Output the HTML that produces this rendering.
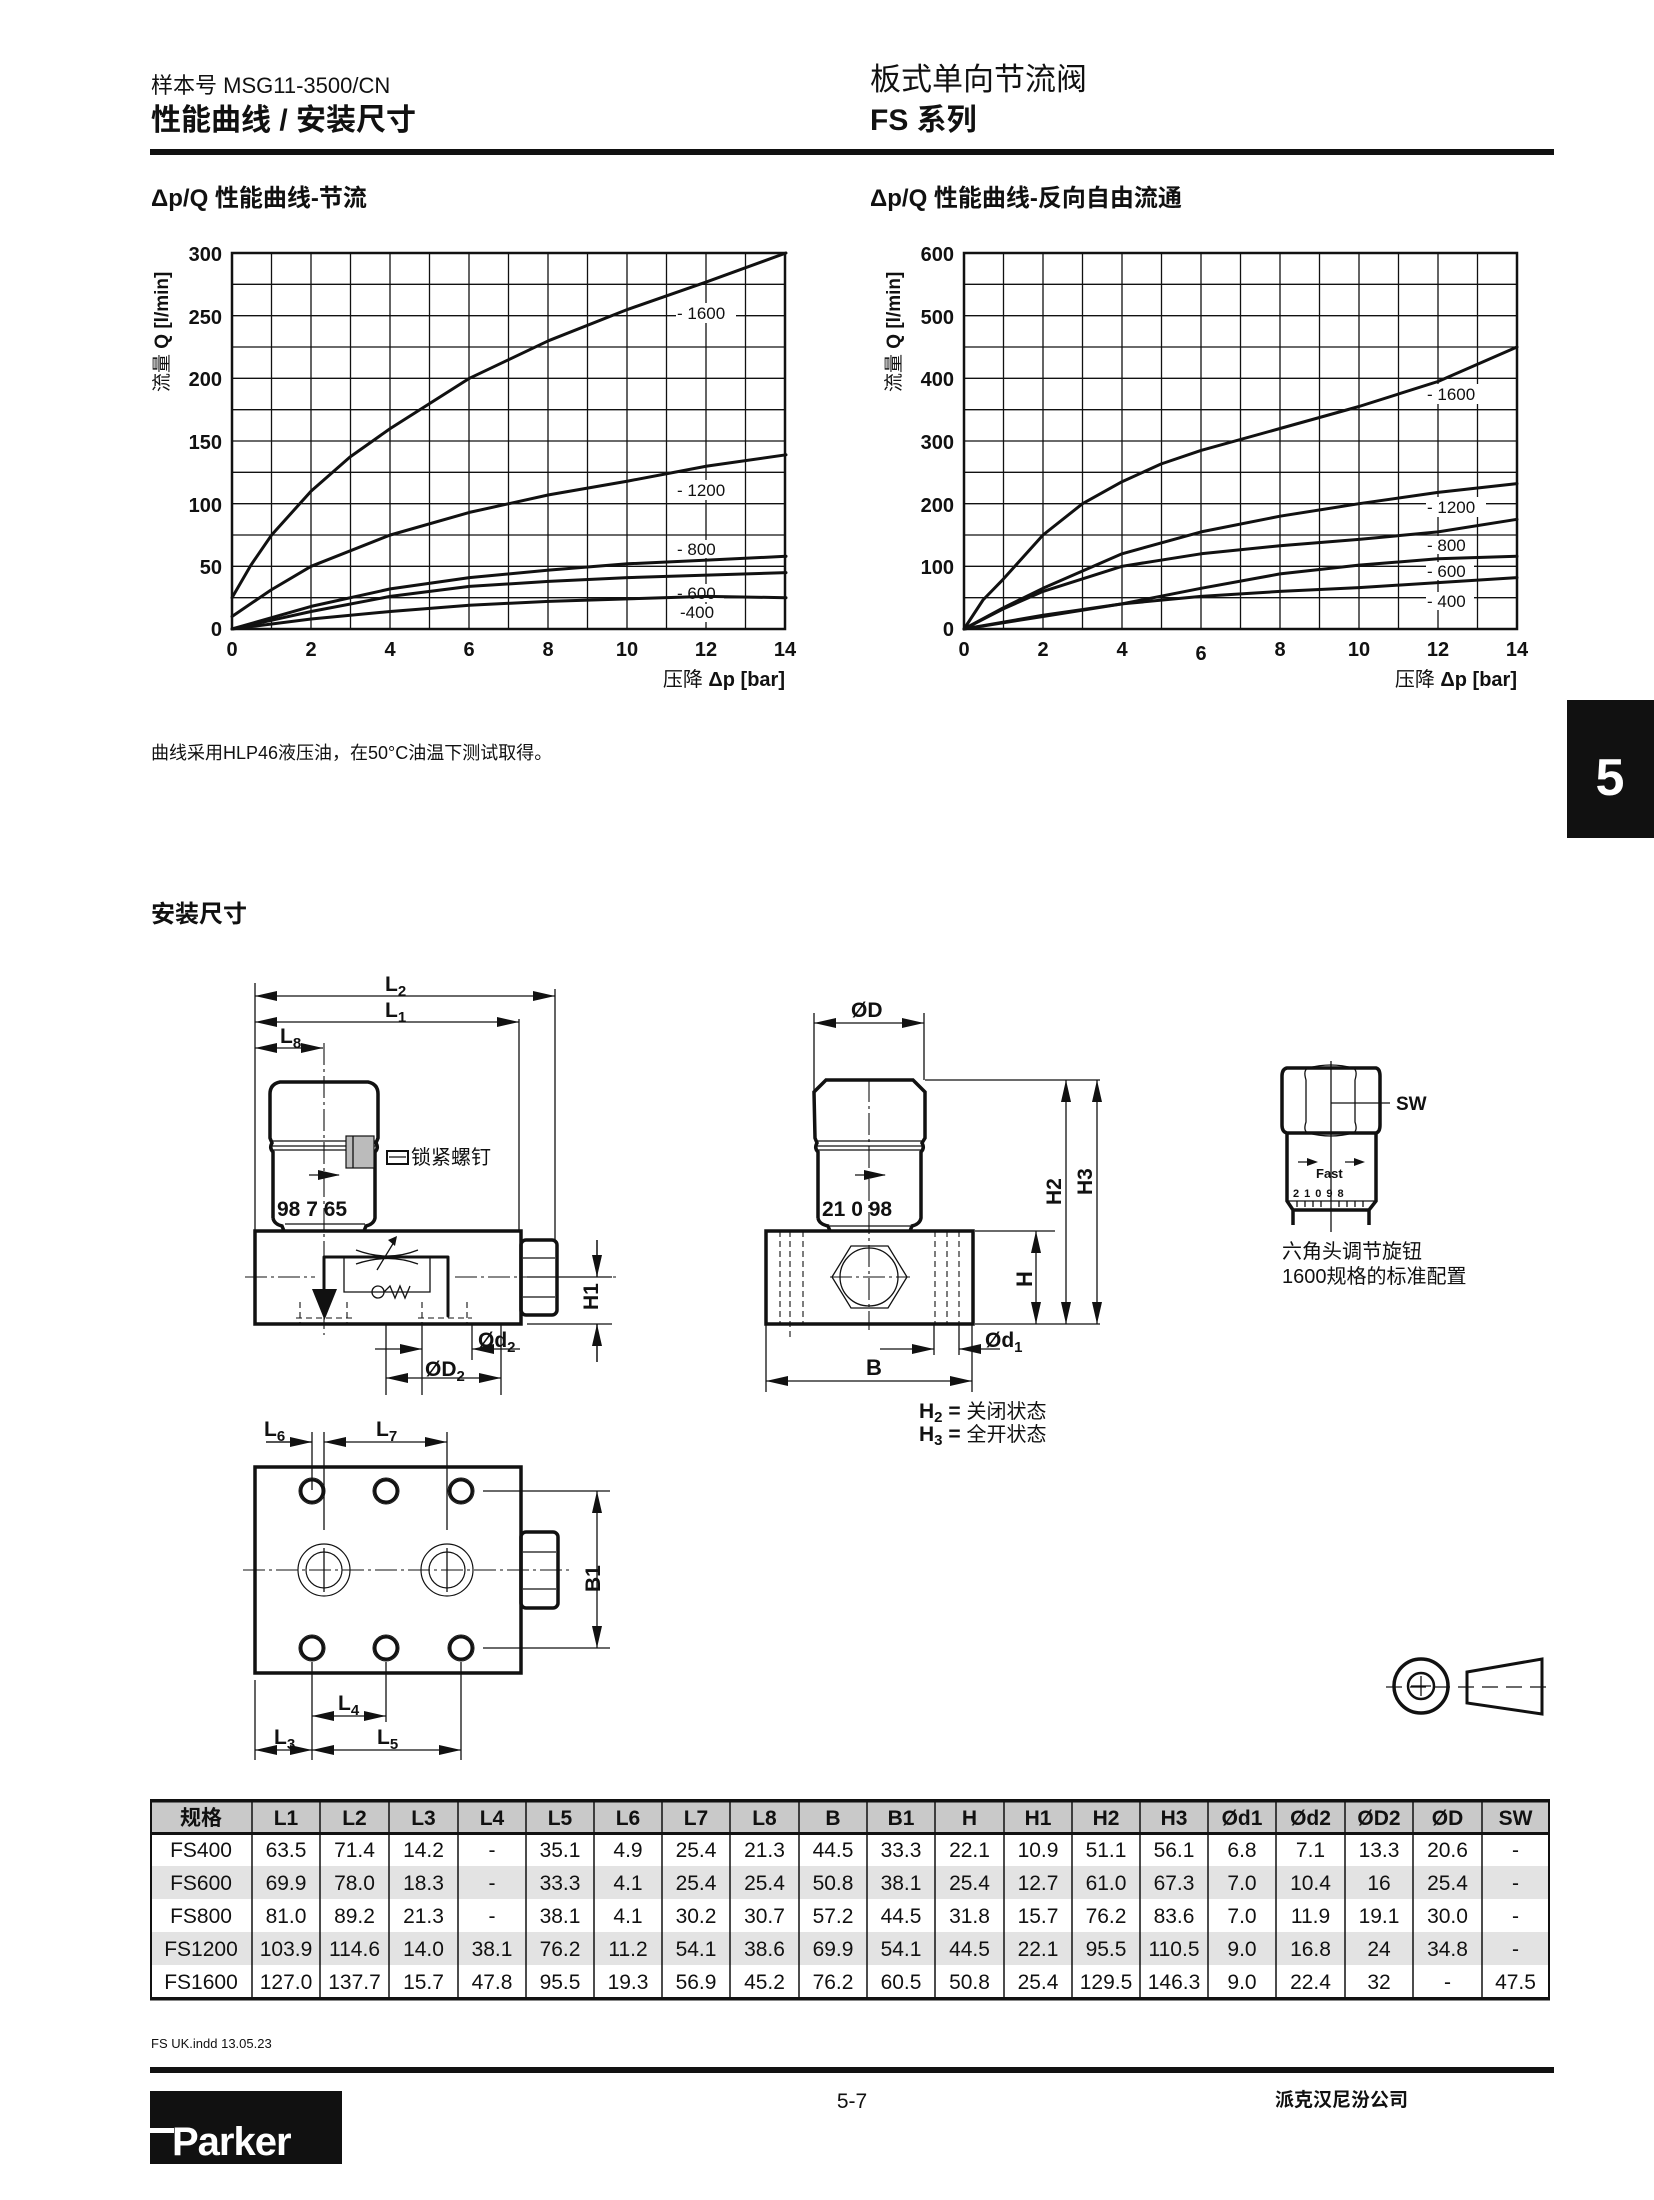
<!DOCTYPE html>
<html><head><meta charset="utf-8"><style>
html,body{margin:0;padding:0;background:#fff}
svg{display:block}
text{font-family:"Liberation Sans","Noto Sans CJK SC",sans-serif;fill:#111}
.cj{font-family:"Liberation Sans","Noto Sans CJK SC",sans-serif}
.n{font-family:"Liberation Sans Narrow","Liberation Sans","Noto Sans CJK SC",sans-serif}
.b{font-weight:bold}
.th{stroke:#111;stroke-width:1.3;fill:none}
.tk{stroke:#111;stroke-width:3.5;fill:none}
.cl{stroke:#111;stroke-width:1.1;fill:none;stroke-dasharray:22 4 3 4}
.ds{stroke:#111;stroke-width:1.1;fill:none;stroke-dasharray:6 4}
.cv{stroke:#111;stroke-width:3;fill:none;stroke-linejoin:round;stroke-linecap:round}
</style></head><body>
<svg width="1654" height="2200" viewBox="0 0 1654 2200" xmlns="http://www.w3.org/2000/svg">
<defs>
<marker id="a" markerUnits="userSpaceOnUse" markerWidth="22" markerHeight="10" viewBox="0 0 22 10" refX="22" refY="5" orient="auto-start-reverse"><path d="M0,0 L22,5 L0,10 z" fill="#111"/></marker>
<g id="grid" stroke="#111" stroke-width="1.3" fill="none">
<path d="M39.5,0V376M79,0V376M118.5,0V376M158,0V376M197.5,0V376M237,0V376M276.5,0V376M316,0V376M355.5,0V376M395,0V376M434.5,0V376M474,0V376M513.5,0V376M0,31.33H553M0,62.67H553M0,94H553M0,125.33H553M0,156.67H553M0,188H553M0,219.33H553M0,250.67H553M0,282H553M0,313.33H553M0,344.67H553"/>
<rect x="0" y="0" width="553" height="376" stroke-width="2.5"/>
</g>
</defs>

<!-- header -->
<text x="151" y="93" font-size="22" class="cj">样本号 MSG11-3500/CN</text>
<text x="151" y="130" font-size="30" class="cj b">性能曲线 / 安装尺寸</text>
<text x="870" y="90" font-size="31" class="cj">板式单向节流阀</text>
<text x="870" y="130" font-size="30" class="cj b">FS 系列</text>
<rect x="150" y="149" width="1404" height="6" fill="#111"/>

<text x="151" y="206" font-size="24" class="cj b">Δp/Q 性能曲线-节流</text>
<text x="870" y="206" font-size="24" class="cj b">Δp/Q 性能曲线-反向自由流通</text>

<!-- left chart -->
<use href="#grid" x="232" y="253"/>
<g font-size="20" class="b" text-anchor="end">
<text x="222" y="261">300</text><text x="222" y="324">250</text><text x="222" y="386">200</text><text x="222" y="449">150</text><text x="222" y="512">100</text><text x="222" y="574">50</text><text x="222" y="636">0</text>
</g>
<g font-size="20" class="b" text-anchor="middle">
<text x="232" y="656">0</text><text x="311" y="656">2</text><text x="390" y="656">4</text><text x="469" y="656">6</text><text x="548" y="656">8</text><text x="627" y="656">10</text><text x="706" y="656">12</text><text x="785" y="656">14</text>
</g>
<text transform="translate(168,392) rotate(-90)" font-size="19"><tspan class="cj">流量 </tspan><tspan class="b">Q [l/min]</tspan></text>
<text x="785" y="686" font-size="20" text-anchor="end"><tspan class="cj">压降 </tspan><tspan class="b">Δp [bar]</tspan></text>
<g fill="#fff"><rect x="676" y="303" width="60" height="20"/><rect x="676" y="480" width="60" height="20"/><rect x="676" y="540" width="48" height="18"/><rect x="676" y="584" width="48" height="18"/><rect x="676" y="604" width="48" height="18"/></g>
<polyline class="cv" points="232,597.7 251,565 271.6,535 311.1,491.1 350,457 390.3,428.5 469.4,378.3 548.6,340.7 627.7,309.4 706.8,281.8 786,253"/>
<polyline class="cv" points="232,616.5 271,590 311.1,566.3 390.3,535 469.4,512.4 548.6,494.9 627.7,481.1 706.8,466.1 786,454.8"/>
<polyline class="cv" points="232,629 311.1,606.4 390.3,588.9 469.4,577.6 548.6,570.1 627.7,563.8 706.8,560.1 786,556.3"/>
<polyline class="cv" points="232,629 311.1,611.5 390.3,596.4 469.4,586.4 548.6,581.4 627.7,577.6 706.8,575.1 786,572.6"/>
<polyline class="cv" points="232,629 311.1,619 390.3,611.5 469.4,605.2 548.6,601.4 627.7,598.9 706.8,596.4 786,597.7"/>
<g font-size="17" class="n">
<text x="677" y="319">- 1600</text><text x="677" y="496">- 1200</text><text x="677" y="555">- 800</text><text x="677" y="599">- 600</text><text x="680" y="618">-400</text>
</g>

<!-- right chart -->
<use href="#grid" x="964" y="253"/>
<g font-size="20" class="b" text-anchor="end">
<text x="954" y="261">600</text><text x="954" y="324">500</text><text x="954" y="386">400</text><text x="954" y="449">300</text><text x="954" y="512">200</text><text x="954" y="574">100</text><text x="954" y="636">0</text>
</g>
<g font-size="20" class="b" text-anchor="middle">
<text x="964" y="656">0</text><text x="1043" y="656">2</text><text x="1122" y="656">4</text><text x="1201" y="660">6</text><text x="1280" y="656">8</text><text x="1359" y="656">10</text><text x="1438" y="656">12</text><text x="1517" y="656">14</text>
</g>
<text transform="translate(900,392) rotate(-90)" font-size="19"><tspan class="cj">流量 </tspan><tspan class="b">Q [l/min]</tspan></text>
<text x="1517" y="686" font-size="20" text-anchor="end"><tspan class="cj">压降 </tspan><tspan class="b">Δp [bar]</tspan></text>
<g fill="#fff"><rect x="1426" y="384" width="60" height="20"/><rect x="1426" y="497" width="60" height="20"/><rect x="1426" y="536" width="48" height="18"/><rect x="1426" y="562" width="48" height="18"/><rect x="1426" y="592" width="48" height="18"/></g>
<polyline class="cv" points="964,629 983,600 1003.5,578.9 1043,535 1082.5,503.7 1122,481.7 1161,464 1201,450.4 1280,428.5 1359,406.5 1438,381.5 1517,347"/>
<polyline class="cv" points="964,629 1003,608 1043,588.3 1122,553.8 1201,531.9 1280,516.2 1359,503.7 1438,492.4 1517,483.6"/>
<polyline class="cv" points="964,629 1003,609 1043,591.4 1122,566.3 1201,553.8 1280,545.7 1359,539.4 1438,531.9 1517,519.3"/>
<polyline class="cv" points="964,629 1043,616.5 1122,603.9 1201,588.3 1280,573.9 1359,565.1 1438,558.8 1517,556.3"/>
<polyline class="cv" points="964,629 1043,615.2 1122,603.9 1201,596.4 1280,591.4 1359,587.6 1438,582.6 1517,577.6"/>
<g font-size="17" class="n">
<text x="1427" y="400">- 1600</text><text x="1427" y="513">- 1200</text><text x="1427" y="551">- 800</text><text x="1427" y="577">- 600</text><text x="1427" y="607">- 400</text>
</g>

<text x="151" y="759" font-size="18" class="cj">曲线采用HLP46液压油，在50°C油温下测试取得。</text>
<rect x="1567" y="700" width="87" height="138" fill="#111"/>
<text x="1610" y="795" font-size="52" class="b" text-anchor="middle" style="fill:#fff">5</text>

<text x="151" y="922" font-size="24" class="cj b">安装尺寸</text>

<!-- left front view -->
<g>
<line class="th" x1="255" y1="983" x2="255" y2="1231"/>
<line class="th" x1="519" y1="1019" x2="519" y2="1231"/>
<line class="th" x1="555" y1="989" x2="555" y2="1240"/>
<line class="th" x1="255" y1="996" x2="555" y2="996" marker-start="url(#a)" marker-end="url(#a)"/>
<line class="th" x1="255" y1="1022" x2="519" y2="1022" marker-start="url(#a)" marker-end="url(#a)"/>
<line class="th" x1="255" y1="1048" x2="323" y2="1048" marker-start="url(#a)" marker-end="url(#a)"/>
<text x="385" y="991" font-size="21" class="b">L<tspan font-size="15" dy="5">2</tspan></text>
<text x="385" y="1017" font-size="21" class="b">L<tspan font-size="15" dy="5">1</tspan></text>
<text x="280" y="1043" font-size="21" class="b">L<tspan font-size="15" dy="5">8</tspan></text>
<line class="cl" x1="324" y1="1043" x2="324" y2="1335"/>
<!-- knob -->
<path class="tk" d="M273,1218 L273,1152 Q269,1148 272,1143 L270,1138 L270,1094 Q270,1084 280,1082 L368,1082 Q378,1084 378,1094 L378,1138 L376,1143 Q379,1148 375,1152 L375,1218 Q374,1224 366,1226 L364,1231 M273,1218 Q274,1224 282,1226 L284,1231"/>
<path class="th" d="M272,1141 H376 M272,1146 H377 M273,1150 H375 M285,1224 H365"/>
<rect x="346" y="1136" width="28" height="32" fill="#bbb" stroke="#111" stroke-width="1.2"/>
<line class="th" x1="353" y1="1136" x2="353" y2="1168"/>
<rect x="387" y="1151" width="21" height="13" fill="none" stroke="#111" stroke-width="2"/>
<line class="th" x1="389" y1="1157" x2="406" y2="1157"/>
<text x="411" y="1164" font-size="20" class="cj">锁紧螺钉</text>
<line class="th" x1="309" y1="1175" x2="339" y2="1175"/>
<path d="M318,1170 L340,1175 L318,1180 z" fill="#111"/>
<text x="277" y="1216" font-size="21" class="b">98 7 65</text>
<!-- body -->
<rect class="tk" x="255" y="1231" width="266" height="93"/>
<rect class="tk" x="521" y="1240" width="36" height="75" rx="5"/>
<path class="th" d="M523,1258 H555 M523,1297 H555"/>
<line class="cl" x1="245" y1="1277" x2="315" y2="1277"/>
<line class="cl" x1="455" y1="1277" x2="620" y2="1277"/>
<path class="cv" d="M324,1300 L324,1257 L448,1257 L448,1316" stroke-width="3"/>
<path class="th" d="M344,1257 V1292 H430 V1257 M356,1250 Q388,1262 418,1250 M356,1264 Q388,1253 418,1264 M377,1270 L394,1242"/>
<path d="M388,1240 L397,1236 L395,1246 z" fill="#111"/>
<circle class="th" cx="378" cy="1292" r="6"/>
<path class="th" d="M384,1292 L390,1286 L395,1298 L400,1286 L405,1298 L410,1286"/>
<path d="M312,1289 L337,1289 L324.5,1320 z" fill="#111"/>
<path class="ds" d="M300,1302 V1324 M347,1302 V1324 M296,1318 H352 M422,1302 V1324 M467,1302 V1324 M418,1318 H472"/>
<!-- Ød2 ØD2 -->
<path class="th" d="M422,1324 V1395 M472,1324 V1360 M386,1324 V1395 M501,1324 V1395"/>
<line class="th" x1="375" y1="1349" x2="422" y2="1349" marker-end="url(#a)"/>
<line class="th" x1="520" y1="1349" x2="472" y2="1349" marker-end="url(#a)"/>
<text x="478" y="1347" font-size="21" class="b">Ød<tspan font-size="15" dy="5">2</tspan></text>
<line class="th" x1="386" y1="1378" x2="501" y2="1378" marker-start="url(#a)" marker-end="url(#a)"/>
<text x="425" y="1376" font-size="21" class="b">ØD<tspan font-size="15" dy="5">2</tspan></text>
<!-- H1 -->
<path class="th" d="M527,1277 H612 M527,1324 H612 M597,1240 V1277 M597,1324 V1362"/>
<line class="th" x1="597" y1="1240" x2="597" y2="1277" marker-end="url(#a)"/>
<line class="th" x1="597" y1="1362" x2="597" y2="1324" marker-end="url(#a)"/>
<text transform="translate(598,1310) rotate(-90)" font-size="21" class="b">H1</text>
</g>

<!-- side view -->
<g>
<path class="th" d="M814,1013 V1090 M924,1013 V1080"/>
<line class="th" x1="814" y1="1023" x2="924" y2="1023" marker-start="url(#a)" marker-end="url(#a)"/>
<text x="851" y="1017" font-size="21" class="b">ØD</text>
<line class="cl" x1="869" y1="1080" x2="869" y2="1330"/>
<path class="tk" d="M818,1218 L818,1152 Q814,1148 817,1143 L815,1138 L814,1092 L826,1080 L913,1080 L925,1092 L925,1138 L922,1143 Q925,1148 921,1152 L921,1218 Q920,1224 912,1226 L910,1231 M818,1218 Q819,1224 828,1226 L830,1231"/>
<path class="th" d="M816,1141 H923 M816,1146 H923 M818,1150 H921 M830,1226 H910"/>
<line class="th" x1="855" y1="1175" x2="885" y2="1175"/>
<path d="M864,1170 L886,1175 L864,1180 z" fill="#111"/>
<text x="822" y="1216" font-size="21" class="b">21 0 98</text>
<rect class="tk" x="766" y="1231" width="207" height="93"/>
<path class="ds" d="M780,1231 V1324 M790,1231 V1340 M803,1231 V1324 M935,1231 V1324 M947,1231 V1324 M959,1231 V1324"/>
<polygon class="th" stroke-width="2" points="832,1277 851,1246 888,1246 907,1277 888,1308 851,1308"/>
<circle class="th" cx="869" cy="1277" r="29"/>
<line class="cl" x1="830" y1="1277" x2="910" y2="1277"/>
<!-- H, H2, H3 -->
<path class="th" d="M925,1080 H1100 M975,1231 H1055 M975,1324 H1100"/>
<line class="th" x1="1036" y1="1231" x2="1036" y2="1324" marker-start="url(#a)" marker-end="url(#a)"/>
<line class="th" x1="1066" y1="1080" x2="1066" y2="1324" marker-start="url(#a)" marker-end="url(#a)"/>
<line class="th" x1="1097" y1="1080" x2="1097" y2="1324" marker-start="url(#a)" marker-end="url(#a)"/>
<text transform="translate(1032,1287) rotate(-90)" font-size="22" class="b">H</text>
<text transform="translate(1061,1205) rotate(-90)" font-size="21" class="b">H2</text>
<text transform="translate(1092,1195) rotate(-90)" font-size="21" class="b">H3</text>
<!-- Ød1 B -->
<path class="th" d="M766,1324 V1392 M934,1324 V1355 M959,1324 V1355 M972,1324 V1392"/>
<line class="th" x1="880" y1="1349" x2="934" y2="1349" marker-end="url(#a)"/>
<line class="th" x1="1000" y1="1349" x2="959" y2="1349" marker-end="url(#a)"/>
<text x="985" y="1347" font-size="21" class="b">Ød<tspan font-size="15" dy="5">1</tspan></text>
<line class="th" x1="766" y1="1381" x2="972" y2="1381" marker-start="url(#a)" marker-end="url(#a)"/>
<text x="866" y="1375" font-size="22" class="b">B</text>
<text x="919" y="1418" font-size="21"><tspan class="b">H<tspan font-size="15" dy="4">2</tspan><tspan dy="-4"> = </tspan></tspan><tspan class="cj" font-size="20">关闭状态</tspan></text>
<text x="919" y="1441" font-size="21"><tspan class="b">H<tspan font-size="15" dy="4">3</tspan><tspan dy="-4"> = </tspan></tspan><tspan class="cj" font-size="20">全开状态</tspan></text>
</g>

<!-- hex knob detail -->
<g>
<line class="th" x1="1331" y1="1061" x2="1331" y2="1232"/>
<path class="tk" stroke-width="2.5" d="M1287,1068 Q1282,1069 1282,1076 L1282,1125 Q1282,1132 1287,1133 L1376,1133 Q1380,1132 1380,1125 L1380,1076 Q1380,1069 1376,1068 Z"/>
<path class="th" stroke-width="2" d="M1308,1068 Q1303,1070 1306,1080 L1306,1122 Q1303,1131 1308,1133 M1353,1068 Q1358,1070 1355,1080 L1355,1122 Q1358,1131 1353,1133 M1308,1068 Q1331,1062 1353,1068 M1308,1133 Q1331,1139 1353,1133"/>
<line class="th" x1="1331" y1="1103" x2="1390" y2="1103"/>
<text x="1396" y="1110" font-size="19" class="b">SW</text>
<path class="tk" stroke-width="2.5" d="M1287,1133 V1201 L1293,1210 H1369 L1376,1201 V1133 M1293,1210 V1225 M1369,1210 V1225"/>
<path class="th" d="M1287,1201 H1376 M1297,1201 V1207 M1305,1201 V1207 M1313,1201 V1207 M1321,1201 V1207 M1339,1201 V1207 M1347,1201 V1207 M1355,1201 V1207 M1363,1201 V1207 M1298,1162 H1315 M1345,1162 H1362"/>
<path d="M1307,1158 L1318,1162 L1307,1166 z M1354,1158 L1365,1162 L1354,1166 z" fill="#111"/>
<text x="1316" y="1178" font-size="13" class="b">Fast</text>
<text x="1293" y="1197" font-size="11" class="b" letter-spacing="5">21098</text>
<text x="1282" y="1258" font-size="20" class="cj">六角头调节旋钮</text>
<text x="1282" y="1283" font-size="20" class="cj">1600规格的标准配置</text>
</g>

<!-- bottom view -->
<g>
<path class="th" d="M266,1442 H312 M312,1432 V1490 M324,1432 V1530 M447,1432 V1530"/>
<line class="th" x1="266" y1="1442" x2="312" y2="1442" marker-end="url(#a)"/>
<line class="th" x1="324" y1="1442" x2="447" y2="1442" marker-start="url(#a)" marker-end="url(#a)"/>
<text x="264" y="1436" font-size="21" class="b">L<tspan font-size="15" dy="5">6</tspan></text>
<text x="376" y="1436" font-size="21" class="b">L<tspan font-size="15" dy="5">7</tspan></text>
<rect class="tk" x="255" y="1467" width="266" height="206"/>
<rect class="tk" x="521" y="1532" width="37" height="76" rx="5"/>
<path class="th" d="M523,1552 H556 M523,1589 H556"/>
<line class="cl" x1="243" y1="1570" x2="570" y2="1570"/>
<g stroke="#111" fill="none">
<circle cx="312" cy="1491" r="11" stroke-width="3"/><circle cx="312" cy="1491" r="13" stroke-width="1"/>
<circle cx="386" cy="1491" r="11" stroke-width="3"/><circle cx="386" cy="1491" r="13" stroke-width="1"/>
<circle cx="461" cy="1491" r="11" stroke-width="3"/><circle cx="461" cy="1491" r="13" stroke-width="1"/>
<circle cx="312" cy="1648" r="11" stroke-width="3"/><circle cx="312" cy="1648" r="13" stroke-width="1"/>
<circle cx="386" cy="1648" r="11" stroke-width="3"/><circle cx="386" cy="1648" r="13" stroke-width="1"/>
<circle cx="461" cy="1648" r="11" stroke-width="3"/><circle cx="461" cy="1648" r="13" stroke-width="1"/>
<circle cx="324" cy="1570" r="26" stroke-width="1.2"/><circle cx="324" cy="1570" r="18" stroke-width="1.2"/>
<circle cx="447" cy="1570" r="26" stroke-width="1.2"/><circle cx="447" cy="1570" r="18" stroke-width="1.2"/>
</g>
<path class="th" d="M324,1548 V1592 M447,1548 V1592"/>
<path class="th" d="M483,1491 H610 M483,1648 H610"/>
<line class="th" x1="597" y1="1491" x2="597" y2="1648" marker-start="url(#a)" marker-end="url(#a)"/>
<text transform="translate(600,1592) rotate(-90)" font-size="21" class="b">B1</text>
<path class="th" d="M255,1680 V1760 M312,1662 V1760 M386,1662 V1722 M461,1662 V1760"/>
<line class="th" x1="312" y1="1716" x2="386" y2="1716" marker-start="url(#a)" marker-end="url(#a)"/>
<text x="338" y="1710" font-size="21" class="b">L<tspan font-size="15" dy="5">4</tspan></text>
<line class="th" x1="255" y1="1750" x2="312" y2="1750" marker-start="url(#a)" marker-end="url(#a)"/>
<line class="th" x1="312" y1="1750" x2="461" y2="1750" marker-start="url(#a)" marker-end="url(#a)"/>
<text x="274" y="1744" font-size="21" class="b">L<tspan font-size="15" dy="5">3</tspan></text>
<text x="377" y="1744" font-size="21" class="b">L<tspan font-size="15" dy="5">5</tspan></text>
</g>

<!-- projection symbol -->
<g>
<circle cx="1421" cy="1686" r="27" stroke="#111" stroke-width="3.5" fill="none"/>
<circle cx="1421" cy="1686" r="13" stroke="#111" stroke-width="2.5" fill="none"/>
<path class="th" d="M1421,1676 V1696 M1411,1686 H1431"/>
<polygon points="1467,1672 1542,1659 1542,1714 1467,1703" stroke="#111" stroke-width="3" fill="none"/>
<line x1="1386" y1="1687" x2="1550" y2="1687" stroke="#111" stroke-width="1.2" stroke-dasharray="16 8"/>
</g>

<!-- table -->
<g>
<rect x="150" y="1802" width="1399" height="31" fill="#c9c9c9"/>
<rect x="150" y="1866" width="1399" height="33" fill="#e3e3e3"/>
<rect x="150" y="1932" width="1399" height="33" fill="#e3e3e3"/>
<path stroke="#111" stroke-width="1.5" fill="none" d="M252,1800V1999M320,1800V1999M389,1800V1999M458,1800V1999M526,1800V1999M594,1800V1999M662,1800V1999M730,1800V1999M799,1800V1999M867,1800V1999M935,1800V1999M1004,1800V1999M1072,1800V1999M1140,1800V1999M1208,1800V1999M1276,1800V1999M1345,1800V1999M1413,1800V1999M1482,1800V1999"/>
<path stroke="#111" stroke-width="2" fill="none" d="M151,1800V1999M1549,1800V1999"/>
<rect x="150" y="1799" width="1400" height="3.5" fill="#111"/>
<rect x="150" y="1832" width="1400" height="3" fill="#111"/>
<rect x="150" y="1997" width="1400" height="3.5" fill="#111"/>
<g font-size="21" class="n" text-anchor="middle">
<g class="b"><text x="201" y="1825" class="cj b">规格</text><text x="286" y="1825">L1</text><text x="354.5" y="1825">L2</text><text x="423.5" y="1825">L3</text><text x="492" y="1825">L4</text><text x="560" y="1825">L5</text><text x="628" y="1825">L6</text><text x="696" y="1825">L7</text><text x="764.5" y="1825">L8</text><text x="833" y="1825">B</text><text x="901" y="1825">B1</text><text x="969.5" y="1825">H</text><text x="1038" y="1825">H1</text><text x="1106" y="1825">H2</text><text x="1174" y="1825">H3</text><text x="1242" y="1825">Ød1</text><text x="1310.5" y="1825">Ød2</text><text x="1379" y="1825">ØD2</text><text x="1447.5" y="1825">ØD</text><text x="1515.5" y="1825">SW</text></g>
<text x="201" y="1857">FS400</text><text x="286" y="1857">63.5</text><text x="354.5" y="1857">71.4</text><text x="423.5" y="1857">14.2</text><text x="492" y="1857">-</text><text x="560" y="1857">35.1</text><text x="628" y="1857">4.9</text><text x="696" y="1857">25.4</text><text x="764.5" y="1857">21.3</text><text x="833" y="1857">44.5</text><text x="901" y="1857">33.3</text><text x="969.5" y="1857">22.1</text><text x="1038" y="1857">10.9</text><text x="1106" y="1857">51.1</text><text x="1174" y="1857">56.1</text><text x="1242" y="1857">6.8</text><text x="1310.5" y="1857">7.1</text><text x="1379" y="1857">13.3</text><text x="1447.5" y="1857">20.6</text><text x="1515.5" y="1857">-</text>
<text x="201" y="1890">FS600</text><text x="286" y="1890">69.9</text><text x="354.5" y="1890">78.0</text><text x="423.5" y="1890">18.3</text><text x="492" y="1890">-</text><text x="560" y="1890">33.3</text><text x="628" y="1890">4.1</text><text x="696" y="1890">25.4</text><text x="764.5" y="1890">25.4</text><text x="833" y="1890">50.8</text><text x="901" y="1890">38.1</text><text x="969.5" y="1890">25.4</text><text x="1038" y="1890">12.7</text><text x="1106" y="1890">61.0</text><text x="1174" y="1890">67.3</text><text x="1242" y="1890">7.0</text><text x="1310.5" y="1890">10.4</text><text x="1379" y="1890">16</text><text x="1447.5" y="1890">25.4</text><text x="1515.5" y="1890">-</text>
<text x="201" y="1923">FS800</text><text x="286" y="1923">81.0</text><text x="354.5" y="1923">89.2</text><text x="423.5" y="1923">21.3</text><text x="492" y="1923">-</text><text x="560" y="1923">38.1</text><text x="628" y="1923">4.1</text><text x="696" y="1923">30.2</text><text x="764.5" y="1923">30.7</text><text x="833" y="1923">57.2</text><text x="901" y="1923">44.5</text><text x="969.5" y="1923">31.8</text><text x="1038" y="1923">15.7</text><text x="1106" y="1923">76.2</text><text x="1174" y="1923">83.6</text><text x="1242" y="1923">7.0</text><text x="1310.5" y="1923">11.9</text><text x="1379" y="1923">19.1</text><text x="1447.5" y="1923">30.0</text><text x="1515.5" y="1923">-</text>
<text x="201" y="1956">FS1200</text><text x="286" y="1956">103.9</text><text x="354.5" y="1956">114.6</text><text x="423.5" y="1956">14.0</text><text x="492" y="1956">38.1</text><text x="560" y="1956">76.2</text><text x="628" y="1956">11.2</text><text x="696" y="1956">54.1</text><text x="764.5" y="1956">38.6</text><text x="833" y="1956">69.9</text><text x="901" y="1956">54.1</text><text x="969.5" y="1956">44.5</text><text x="1038" y="1956">22.1</text><text x="1106" y="1956">95.5</text><text x="1174" y="1956">110.5</text><text x="1242" y="1956">9.0</text><text x="1310.5" y="1956">16.8</text><text x="1379" y="1956">24</text><text x="1447.5" y="1956">34.8</text><text x="1515.5" y="1956">-</text>
<text x="201" y="1989">FS1600</text><text x="286" y="1989">127.0</text><text x="354.5" y="1989">137.7</text><text x="423.5" y="1989">15.7</text><text x="492" y="1989">47.8</text><text x="560" y="1989">95.5</text><text x="628" y="1989">19.3</text><text x="696" y="1989">56.9</text><text x="764.5" y="1989">45.2</text><text x="833" y="1989">76.2</text><text x="901" y="1989">60.5</text><text x="969.5" y="1989">50.8</text><text x="1038" y="1989">25.4</text><text x="1106" y="1989">129.5</text><text x="1174" y="1989">146.3</text><text x="1242" y="1989">9.0</text><text x="1310.5" y="1989">22.4</text><text x="1379" y="1989">32</text><text x="1447.5" y="1989">-</text><text x="1515.5" y="1989">47.5</text>
</g>
</g>

<!-- footer -->
<text x="151" y="2048" font-size="13" class="n">FS UK.indd 13.05.23</text>
<rect x="150" y="2067" width="1404" height="6" fill="#111"/>
<rect x="150" y="2091" width="192" height="73" fill="#111"/>
<rect x="150" y="2128" width="24" height="5" fill="#fff"/>
<text x="172" y="2155" font-size="40" class="n b" style="fill:#fff" letter-spacing="-1">Parker</text>
<text x="852" y="2108" font-size="21" class="n" text-anchor="middle">5-7</text>
<text x="1275" y="2106" font-size="19" class="cj b">派克汉尼汾公司</text>
</svg>
</body></html>
